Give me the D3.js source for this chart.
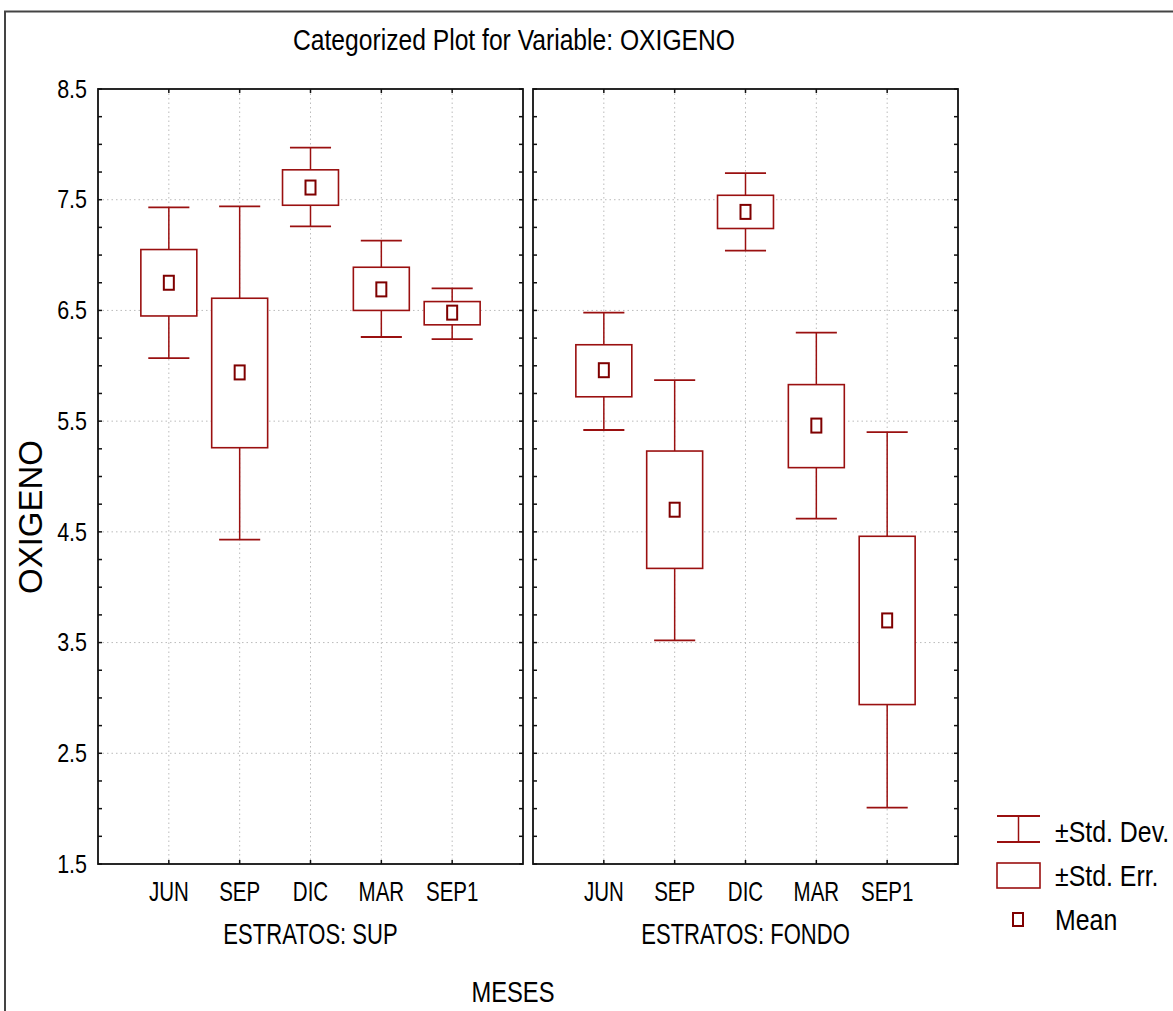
<!DOCTYPE html>
<html>
<head>
<meta charset="utf-8">
<script src="https://cdn.jsdelivr.net/npm/d3@7"></script>
<style>
  body { margin: 0; background: #fff; }
  svg text { font-family: "Liberation Sans", Arial, sans-serif; fill: #000; }
</style>
</head>
<body>
<svg width="1173" height="1011"></svg>
<script>
// data
var months = ["JUN", "SEP", "DIC", "MAR", "SEP1"];
var strata = ["SUP", "FONDO"];
var yTicks = [1.5, 2.5, 3.5, 4.5, 5.5, 6.5, 7.5, 8.5];

// SUP
var supMean  = [6.75, 5.94, 7.61, 6.69, 6.48];
var supSeLo  = [6.45, 5.26, 7.45, 6.50, 6.37];
var supSeHi  = [7.05, 6.61, 7.77, 6.89, 6.58];
var supSdLo  = [6.07, 4.43, 7.26, 6.26, 6.24];
var supSdHi  = [7.43, 7.44, 7.97, 7.13, 6.70];

// FONDO
var fonMean  = [5.96, 4.70, 7.39, 5.46, 3.70];
var fonSeLo  = [5.72, 4.17, 7.24, 5.08, 2.94];
var fonSeHi  = [6.19, 5.23, 7.54, 5.83, 4.46];
var fonSdLo  = [5.42, 3.52, 7.04, 4.62, 2.01];
var fonSdHi  = [6.48, 5.87, 7.74, 6.30, 5.40];

var svg = d3.select("svg");
var red = "#9a1010", darkred = "#7f0000";

// narrow-looking text: squeeze horizontally
function label(parent, x, y, str, size, sx, anchor, rot) {
  return parent.append("text")
    .attr("transform", "translate(" + x + "," + y + ")" + (rot ? " rotate(" + rot + ")" : "") + " scale(" + sx + ",1)")
    .attr("dy", "0.35em")
    .attr("text-anchor", anchor || "middle")
    .style("font-size", size + "px")
    .text(str);
}

// outer frame
svg.append("path")
    .attr("d", "M5,1011 V11.5 H1173")
    .attr("fill", "none")
    .attr("stroke", "#444")
    .attr("stroke-width", 2);

var plotTop = 89, plotBottom = 864;
var y = d3.scaleLinear().domain([1.5, 8.5]).range([plotBottom, plotTop]);

var panels = [
  {name: strata[0], x0: 98, x1: 523, mean: supMean, seLo: supSeLo, seHi: supSeHi, sdLo: supSdLo, sdHi: supSdHi},
  {name: strata[1], x0: 533, x1: 958, mean: fonMean, seLo: fonSeLo, seHi: fonSeHi, sdLo: fonSdLo, sdHi: fonSdHi}
];

var minor = d3.range(1.5, 8.51, 0.25);

panels.forEach(function(p) {
  var x = d3.scalePoint().domain(months).range([p.x0, p.x1]).padding(1);
  var step = x.step();
  var g = svg.append("g");

  // grid
  g.selectAll(".hgrid")
    .data(yTicks.slice(1, -1))
    .enter().append("line")
      .attr("x1", p.x0).attr("x2", p.x1)
      .attr("y1", d => y(d)).attr("y2", d => y(d))
      .attr("stroke", "#bbb").attr("stroke-dasharray", "1.5,3");
  g.selectAll(".vgrid")
    .data(months)
    .enter().append("line")
      .attr("x1", d => x(d)).attr("x2", d => x(d))
      .attr("y1", plotTop).attr("y2", plotBottom)
      .attr("stroke", "#bbb").attr("stroke-dasharray", "1.5,3");

  // frame
  g.append("rect")
    .attr("x", p.x0).attr("y", plotTop)
    .attr("width", p.x1 - p.x0).attr("height", plotBottom - plotTop)
    .attr("fill", "none").attr("stroke", "#111").attr("stroke-width", 1.8);

  // inward ticks
  minor.forEach(function(v) {
    g.append("line").attr("x1", p.x0).attr("x2", p.x0 + 4)
      .attr("y1", y(v)).attr("y2", y(v)).attr("stroke", "#111").attr("stroke-width", 1.5);
    g.append("line").attr("x1", p.x1).attr("x2", p.x1 - 4)
      .attr("y1", y(v)).attr("y2", y(v)).attr("stroke", "#111").attr("stroke-width", 1.5);
  });
  months.forEach(function(m) {
    g.append("line").attr("x1", x(m)).attr("x2", x(m))
      .attr("y1", plotTop).attr("y2", plotTop + 4).attr("stroke", "#111").attr("stroke-width", 1.5);
    g.append("line").attr("x1", x(m)).attr("x2", x(m))
      .attr("y1", plotBottom).attr("y2", plotBottom - 4).attr("stroke", "#111").attr("stroke-width", 1.5);
  });

  // category labels
  months.forEach(function(m) {
    label(g, x(m), 892, m, 27, 0.76);
  });
  label(g, (p.x0 + p.x1) / 2, 934, "ESTRATOS: " + p.name, 29, 0.76);

  // whiskers (std dev), box (std err), mean
  var cap = step * 0.29, bw = step * 0.395;
  months.forEach(function(m, i) {
    var cx = x(m);
    g.append("line").attr("x1", cx).attr("x2", cx)
      .attr("y1", y(p.sdHi[i])).attr("y2", y(p.seHi[i]))
      .attr("stroke", red).attr("stroke-width", 1.5);
    g.append("line").attr("x1", cx).attr("x2", cx)
      .attr("y1", y(p.seLo[i])).attr("y2", y(p.sdLo[i]))
      .attr("stroke", red).attr("stroke-width", 1.5);
    g.append("line").attr("x1", cx - cap).attr("x2", cx + cap)
      .attr("y1", y(p.sdHi[i])).attr("y2", y(p.sdHi[i]))
      .attr("stroke", red).attr("stroke-width", 1.8);
    g.append("line").attr("x1", cx - cap).attr("x2", cx + cap)
      .attr("y1", y(p.sdLo[i])).attr("y2", y(p.sdLo[i]))
      .attr("stroke", red).attr("stroke-width", 1.8);
    g.append("rect")
      .attr("x", cx - bw).attr("y", y(p.seHi[i]))
      .attr("width", bw * 2).attr("height", y(p.seLo[i]) - y(p.seHi[i]))
      .attr("fill", "#fff").attr("stroke", red).attr("stroke-width", 1.6);
    g.append("rect")
      .attr("x", cx - 5).attr("y", y(p.mean[i]) - 7)
      .attr("width", 10).attr("height", 14)
      .attr("fill", "#fff").attr("stroke", darkred).attr("stroke-width", 2);
  });
});

// y axis labels (left panel only)
yTicks.forEach(function(v) {
  label(svg, 87, y(v), v.toFixed(1), 25, 0.86, "end");
});

// titles
label(svg, 514, 40, "Categorized Plot for Variable: OXIGENO", 29, 0.85);
label(svg, 30, 517, "OXIGENO", 34, 0.97, "middle", -90);
label(svg, 513, 991, "MESES", 30, 0.79);

// legend
var lg = svg.append("g");
lg.append("line").attr("x1", 997).attr("x2", 1040).attr("y1", 816).attr("y2", 816)
  .attr("stroke", red).attr("stroke-width", 1.8);
lg.append("line").attr("x1", 997).attr("x2", 1040).attr("y1", 842).attr("y2", 842)
  .attr("stroke", red).attr("stroke-width", 1.8);
lg.append("line").attr("x1", 1018.5).attr("x2", 1018.5).attr("y1", 816).attr("y2", 842)
  .attr("stroke", red).attr("stroke-width", 1.5);
lg.append("rect").attr("x", 997).attr("y", 863).attr("width", 43).attr("height", 25)
  .attr("fill", "#fff").attr("stroke", red).attr("stroke-width", 1.6);
lg.append("rect").attr("x", 1013).attr("y", 913).attr("width", 10).attr("height", 13)
  .attr("fill", "#fff").attr("stroke", darkred).attr("stroke-width", 2);

var legendText = ["\u00b1Std. Dev.", "\u00b1Std. Err.", "Mean"];
var legendY = [831, 875, 919];
legendText.forEach(function(t, i) {
  label(lg, 1055, legendY[i], t, 30, 0.83, "start");
});
</script>
</body>
</html>
